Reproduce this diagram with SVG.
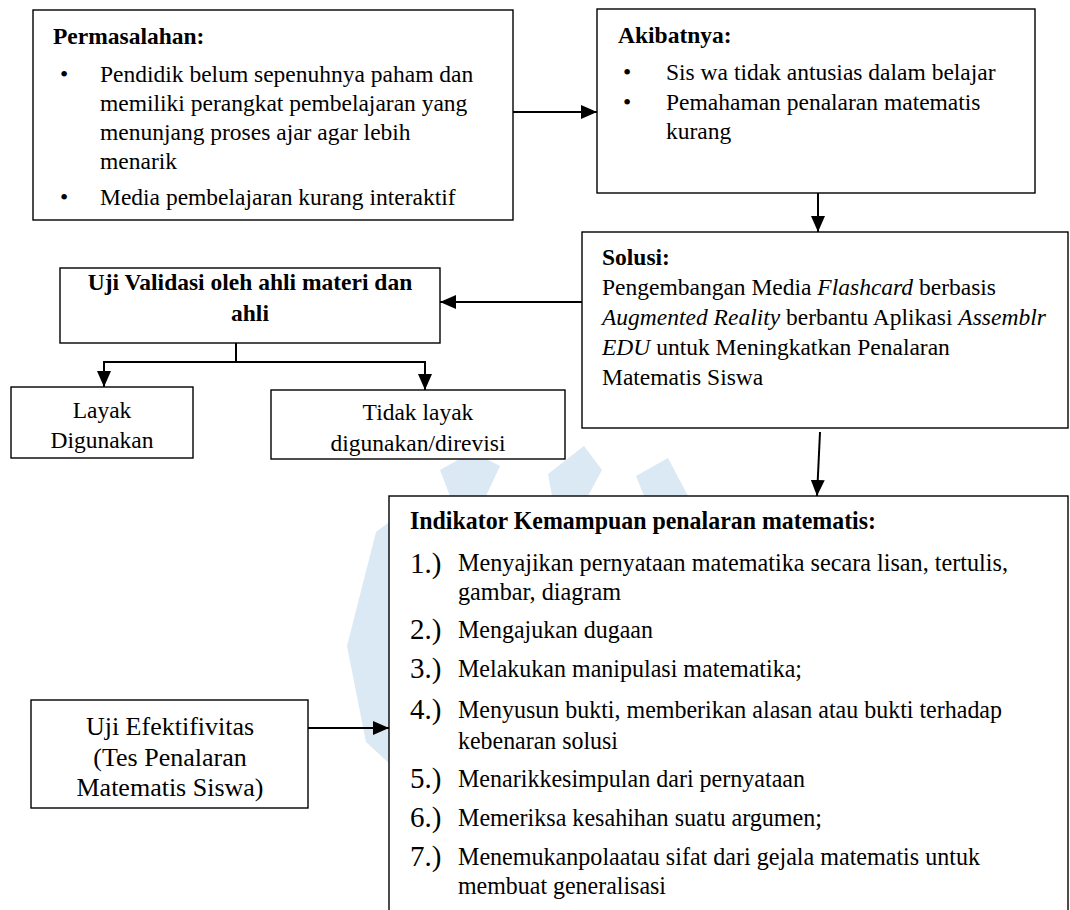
<svg xmlns="http://www.w3.org/2000/svg" width="1070" height="910" viewBox="0 0 1070 910">
<defs>
<marker id="ah" markerUnits="userSpaceOnUse" markerWidth="16" markerHeight="14" refX="16" refY="7" orient="auto">
<path d="M0,0 L16,7 L0,14 z" fill="#000"/>
</marker>
<style>
.box{fill:#fff;stroke:#000;stroke-width:1.4}
.t{font-family:"Liberation Serif","Times New Roman",serif;font-size:23.5px;fill:#000}
.b{font-weight:bold}
.i{font-style:italic}
.c{text-anchor:middle}
.big{font-size:26px}
.ind{font-size:25.5px}
.num{font-family:"Liberation Serif","Times New Roman",serif;font-size:29px;fill:#000}
.conn{stroke:#000;stroke-width:2;fill:none}
.wm{fill:#dbe9f5}
</style>
</defs>
<rect width="1070" height="910" fill="#fff"/>
<g id="watermark">
<polygon class="wm" points="392,520 376,532 347,646 366,742 392,766"/>
<polygon class="wm" points="440,470 472,452 500,466 486,496 450,496"/>
<polygon class="wm" points="548,474 584,446 602,470 588,496 552,496"/>
<polygon class="wm" points="636,476 668,458 688,496 644,496"/>
</g>
<g id="connectors">
<line class="conn" x1="513" y1="112" x2="597" y2="112" marker-end="url(#ah)"/>
<line class="conn" x1="818" y1="193" x2="818" y2="232" marker-end="url(#ah)"/>
<line class="conn" x1="582" y1="302" x2="440" y2="302" marker-end="url(#ah)"/>
<polyline class="conn" points="236,343 236,362"/>
<polyline class="conn" points="104,362 425,362"/>
<line class="conn" x1="104" y1="361" x2="104" y2="387" marker-end="url(#ah)"/>
<line class="conn" x1="425" y1="361" x2="425" y2="390" marker-end="url(#ah)"/>
<line class="conn" x1="820" y1="432" x2="817" y2="496" marker-end="url(#ah)"/>
<line class="conn" x1="308" y1="728" x2="389" y2="728" marker-end="url(#ah)"/>
</g>
<g id="permasalahan">
<rect class="box" x="33" y="10" width="480" height="210"/>
<text class="t b" x="53" y="44">Permasalahan:</text>
<text class="t" x="60" y="82">•</text>
<text class="t" x="100" y="82">Pendidik belum sepenuhnya paham dan</text>
<text class="t" x="100" y="111">memiliki perangkat pembelajaran yang</text>
<text class="t" x="100" y="140">menunjang proses ajar agar lebih</text>
<text class="t" x="100" y="169">menarik</text>
<text class="t" x="60" y="205">•</text>
<text class="t" x="100" y="205">Media pembelajaran kurang interaktif</text>
</g>
<g id="akibatnya">
<rect class="box" x="597" y="9" width="438" height="184"/>
<text class="t b" x="618" y="43">Akibatnya:</text>
<text class="t" x="623" y="80">•</text>
<text class="t" x="666" y="80">Sis wa tidak antusias dalam belajar</text>
<text class="t" x="623" y="110">•</text>
<text class="t" x="666" y="110">Pemahaman penalaran matematis</text>
<text class="t" x="666" y="139">kurang</text>
</g>
<g id="solusi">
<rect class="box" x="582" y="232" width="486" height="196"/>
<text class="t b" x="602" y="265">Solusi:</text>
<text class="t" x="602" y="295">Pengembangan Media <tspan class="i">Flashcard</tspan> berbasis</text>
<text class="t" x="602" y="325"><tspan class="i">Augmented Reality</tspan> berbantu Aplikasi <tspan class="i">Assemblr</tspan></text>
<text class="t" x="602" y="355"><tspan class="i">EDU</tspan> untuk Meningkatkan Penalaran</text>
<text class="t" x="602" y="385">Matematis Siswa</text>
</g>
<g id="uji-validasi">
<rect class="box" x="60" y="268" width="380" height="75"/>
<text class="t b c" x="250" y="290">Uji Validasi oleh ahli materi dan</text>
<text class="t b c" x="250" y="321">ahli</text>
</g>
<g id="layak">
<rect class="box" x="11" y="387" width="182" height="71"/>
<text class="t c" x="102" y="418">Layak</text>
<text class="t c" x="102" y="448">Digunakan</text>
</g>
<g id="tidak-layak">
<rect class="box" x="271" y="390" width="294" height="69"/>
<text class="t c" x="418" y="420">Tidak layak</text>
<text class="t c" x="418" y="451">digunakan/direvisi</text>
</g>
<g id="uji-efektivitas">
<rect class="box" x="31" y="700" width="277" height="108"/>
<text class="t big c" x="170" y="735">Uji Efektifivitas</text>
<text class="t big c" x="170" y="766">(Tes Penalaran</text>
<text class="t big c" x="170" y="796">Matematis Siswa)</text>
</g>
<g id="indikator">
<rect class="box" x="389" y="496" width="679" height="430"/>
<text class="t ind b" x="410" y="529" textLength="466" lengthAdjust="spacingAndGlyphs">Indikator Kemampuan penalaran matematis:</text>
<text class="num" x="410" y="573">1.)</text>
<text class="t ind" x="458" y="571" textLength="550" lengthAdjust="spacingAndGlyphs">Menyajikan pernyataan matematika secara lisan, tertulis,</text>
<text class="t ind" x="458" y="600" textLength="163" lengthAdjust="spacingAndGlyphs">gambar, diagram</text>
<text class="num" x="410" y="639">2.)</text>
<text class="t ind" x="458" y="638" textLength="195" lengthAdjust="spacingAndGlyphs">Mengajukan dugaan</text>
<text class="num" x="410" y="678">3.)</text>
<text class="t ind" x="458" y="677" textLength="344" lengthAdjust="spacingAndGlyphs">Melakukan manipulasi matematika;</text>
<text class="num" x="410" y="719">4.)</text>
<text class="t ind" x="458" y="718" textLength="544" lengthAdjust="spacingAndGlyphs">Menyusun bukti, memberikan alasan atau bukti terhadap</text>
<text class="t ind" x="458" y="749" textLength="160" lengthAdjust="spacingAndGlyphs">kebenaran solusi</text>
<text class="num" x="410" y="788">5.)</text>
<text class="t ind" x="458" y="787" textLength="347" lengthAdjust="spacingAndGlyphs">Menarikkesimpulan dari pernyataan</text>
<text class="num" x="410" y="827">6.)</text>
<text class="t ind" x="458" y="826" textLength="364" lengthAdjust="spacingAndGlyphs">Memeriksa kesahihan suatu argumen;</text>
<text class="num" x="410" y="866">7.)</text>
<text class="t ind" x="458" y="865" textLength="522" lengthAdjust="spacingAndGlyphs">Menemukanpolaatau sifat dari gejala matematis untuk</text>
<text class="t ind" x="458" y="894" textLength="208" lengthAdjust="spacingAndGlyphs">membuat generalisasi</text>
</g>
</svg>
